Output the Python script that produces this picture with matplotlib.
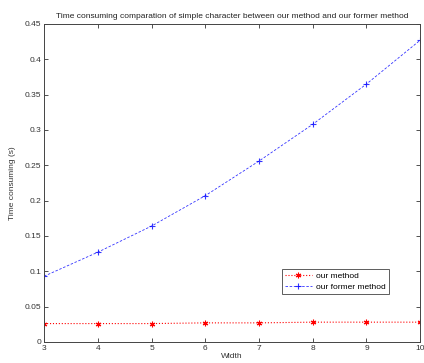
import matplotlib
matplotlib.use("Agg")
from matplotlib import pyplot as plt
from matplotlib.ticker import FuncFormatter

plt.rcParams['font.family'] = ['Liberation Sans', 'DejaVu Sans']

# data
width = [3, 4, 5, 6, 7, 8, 9, 10]
our_method = [0.026, 0.026, 0.026, 0.027, 0.027, 0.028, 0.028, 0.028]
former_method = [0.093, 0.127, 0.164, 0.207, 0.256, 0.308, 0.365, 0.427]
y_ticks = [0, 0.05, 0.1, 0.15, 0.2, 0.25, 0.3, 0.35, 0.4, 0.45]

fig = plt.figure(figsize=(4.24, 3.63), dpi=100)
ax = fig.add_axes([0.104, 0.058, 0.887, 0.876])

# matlab '*' is an asterisk, not a filled star
ax.plot(width, our_method, color='red', linestyle=':', linewidth=0.8,
        marker=(6, 2, 0), markersize=4, markeredgewidth=0.8, label='our method')
ax.plot(width, former_method, color='blue', linestyle=(0, (3, 2)), linewidth=0.6,
        alpha=0.8, marker='+', markersize=5, markeredgewidth=0.8, label='our former method')

ax.set_xlim(3, 10)
ax.set_ylim(0, 0.45)
ax.set_xticks(width)
ax.set_yticks(y_ticks)
ax.yaxis.set_major_formatter(FuncFormatter(lambda v, p: '%g' % v))

# matlab-ish box with inward ticks on all sides
ax.tick_params(direction='in', top=True, right=True, length=3, width=0.6,
               labelsize=6, colors='#333333', pad=2)
for spine in ax.spines.values():
    spine.set_linewidth(0.7)
    spine.set_color('#444444')

ax.set_title("Time consuming comparation of simple character between our method and our former method",
             fontsize=6, color='#222222', pad=4)
ax.set_xlabel("Width", fontsize=6, color='#333333', labelpad=1)
ax.set_ylabel("Time consuming (s)", fontsize=6, color='#333333', labelpad=6)

leg = ax.legend(loc='lower left', bbox_to_anchor=(0.633, 0.152, 0.285, 0.075),
                mode='expand', fontsize=6, frameon=True, fancybox=False,
                handlelength=3.2, borderpad=0.35, labelspacing=0.35, handletextpad=0.5,
                borderaxespad=0)
leg.get_frame().set_edgecolor('#333333')
leg.get_frame().set_linewidth(0.7)

fig.savefig("out.png", dpi=100)
